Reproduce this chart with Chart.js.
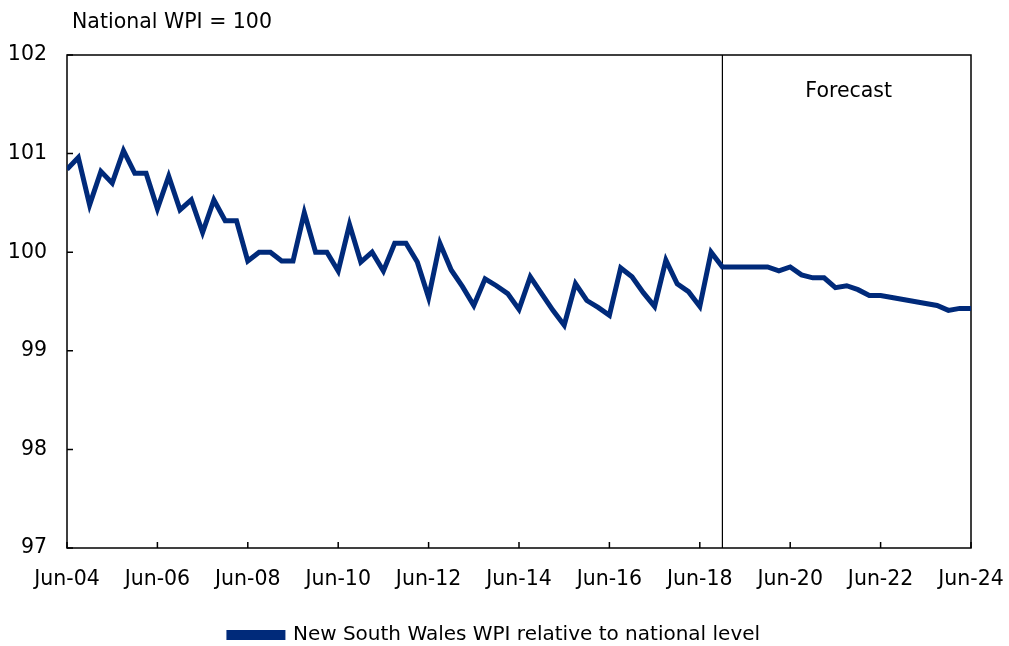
<!DOCTYPE html>
<html lang="en">
<head>
    <meta charset="UTF-8">
    <title>NSW WPI relative to national level</title>
    <script src="https://cdn.jsdelivr.net/npm/chart.js"></script>
    <style>
        body {
            margin: 0;
            padding: 0;
            background-color: white;
        }
        .chart-container {
            position: relative;
            width: 1009px;
            height: 646px;
        }
    </style>
</head>
<body>
    <div class="chart-container">
        <canvas id="wpiChart"></canvas>
    </div>

    <script>
        // quarterly, Jun-04 to Jun-24
        const months = ['Jun', 'Sep', 'Dec', 'Mar'];
        const quarters = [];
        for (let i = 0; i <= 80; i++) {
            const yr = 4 + Math.floor((i + 1) / 4);
            quarters.push(months[i % 4] + '-' + String(yr).padStart(2, '0'));
        }

        const tickLabels = ['Jun-04', 'Jun-06', 'Jun-08', 'Jun-10', 'Jun-12', 'Jun-14',
                            'Jun-16', 'Jun-18', 'Jun-20', 'Jun-22', 'Jun-24'];

        const nswRelative = [
            100.84, 100.96, 100.48, 100.82, 100.70, 101.03, 100.80, 100.80,
            100.44, 100.77, 100.43, 100.53, 100.20, 100.53, 100.32, 100.32,
            99.91, 100.00, 100.00, 99.91, 99.91, 100.40, 100.00, 100.00,
            99.81, 100.28, 99.90, 100.00, 99.81, 100.09, 100.09, 99.90,
            99.54, 100.09, 99.82, 99.65, 99.46, 99.73, 99.66, 99.58,
            99.42, 99.75, 99.58, 99.41, 99.26, 99.68, 99.51, 99.44,
            99.36, 99.84, 99.75, 99.59, 99.45, 99.92, 99.68, 99.60,
            99.45, 100.00, 99.85, 99.85, 99.85, 99.85, 99.85, 99.81,
            99.85, 99.77, 99.74, 99.74, 99.64, 99.66, 99.62, 99.56,
            99.56, 99.54, 99.52, 99.50, 99.48, 99.46, 99.41, 99.43,
            99.43
        ];

        const forecastStart = 'Dec-18';
        const navy = '#002a7a';
        const font = { family: 'DejaVu Sans', size: 20.5 };

        const frame = {
            id: 'frame',
            beforeDatasetsDraw(chart) {
                const { ctx, chartArea: a, scales: { x, y } } = chart;
                ctx.save();
                ctx.strokeStyle = '#000';
                ctx.lineWidth = 1.5;
                ctx.strokeRect(a.left, a.top, a.right - a.left, a.bottom - a.top);
                ctx.beginPath();
                x.ticks.forEach(t => {
                    const px = x.getPixelForValue(t.value);
                    ctx.moveTo(px, a.bottom);
                    ctx.lineTo(px, a.bottom - 6);
                });
                y.ticks.forEach(t => {
                    const py = y.getPixelForValue(t.value);
                    ctx.moveTo(a.left, py);
                    ctx.lineTo(a.left + 6, py);
                });
                ctx.stroke();

                // forecast divider
                const fx = x.getPixelForValue(quarters.indexOf(forecastStart));
                ctx.lineWidth = 1.2;
                ctx.beginPath();
                ctx.moveTo(fx, a.top);
                ctx.lineTo(fx, a.bottom);
                ctx.stroke();

                ctx.fillStyle = '#000';
                ctx.font = '20.5px "DejaVu Sans"';
                ctx.textAlign = 'center';
                ctx.textBaseline = 'middle';
                ctx.fillText('Forecast', (fx + a.right) / 2 + 2, a.top + 37);

                ctx.textAlign = 'left';
                ctx.fillText('National WPI = 100', a.left + 5, 23);
                ctx.restore();
            }
        };

        new Chart(document.getElementById('wpiChart'), {
            type: 'line',
            data: {
                datasets: [{
                    label: 'New South Wales WPI relative to national level',
                    data: nswRelative.map((v, i) => ({ x: i, y: v })),
                    borderColor: navy,
                    backgroundColor: navy,
                    borderWidth: 5,
                    pointRadius: 0,
                    tension: 0
                }]
            },
            options: {
                responsive: true,
                maintainAspectRatio: false,
                animation: false,
                layout: {
                    padding: { top: 55, right: 20, left: 0, bottom: -9 }
                },
                plugins: {
                    legend: {
                        position: 'bottom',
                        labels: {
                            boxWidth: 54,
                            boxHeight: 5,
                            padding: 4,
                            color: '#000',
                            font: { family: 'DejaVu Sans', size: 20 }
                        }
                    },
                    tooltip: { enabled: false }
                },
                scales: {
                    x: {
                        type: 'linear',
                        min: 0,
                        max: 80,
                        grid: { display: false },
                        border: { display: false },
                        ticks: {
                            stepSize: 8,
                            autoSkip: false,
                            maxRotation: 0,
                            padding: 11,
                            color: '#000',
                            font: font,
                            callback: v => tickLabels[v / 8]
                        },
                        afterFit: s => {
                            s.height = 73;
                            s.paddingLeft = 0;
                            s.paddingRight = 38;
                        }
                    },
                    y: {
                        min: 97,
                        max: 102,
                        grid: { display: false },
                        border: { display: false },
                        ticks: {
                            stepSize: 1,
                            padding: 12,
                            color: '#000',
                            font: font
                        },
                        afterFit: s => { s.width = 67; }
                    }
                }
            },
            plugins: [frame]
        });
    </script>
</body>
</html>
